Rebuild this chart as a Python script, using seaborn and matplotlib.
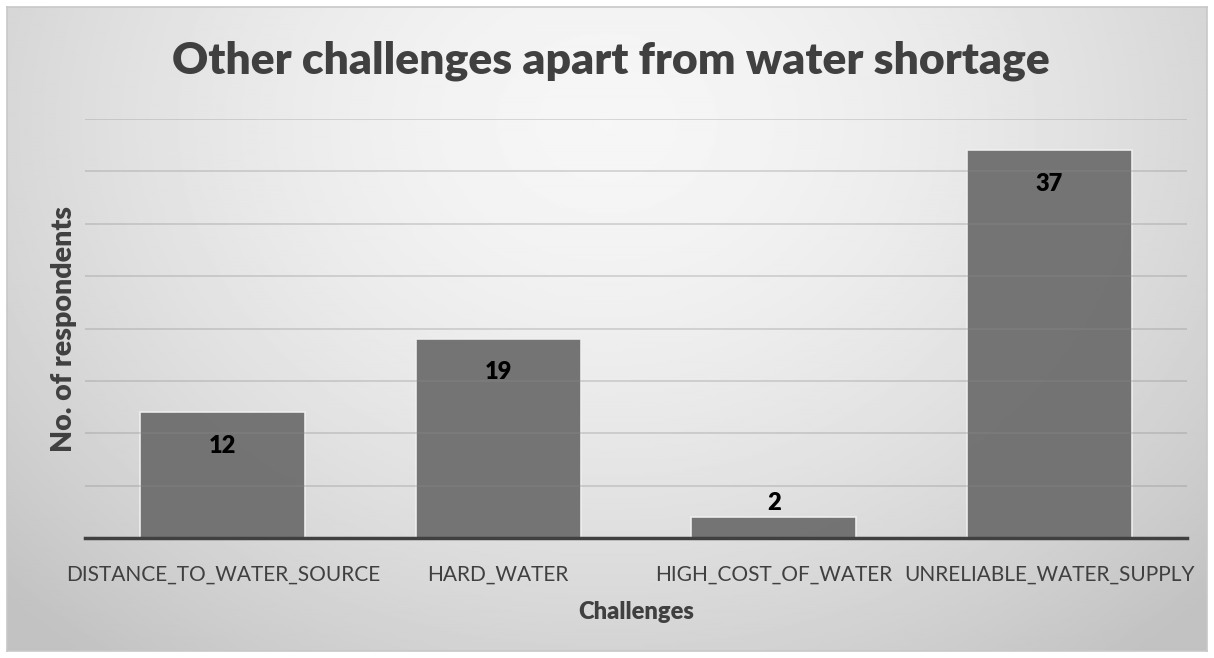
import numpy as np
import pandas as pd
import matplotlib.pyplot as plt
import seaborn as sns

# Data
challenges = ["DISTANCE_TO_WATER_SOURCE", "HARD_WATER", "HIGH_COST_OF_WATER", "UNRELIABLE_WATER_SUPPLY"]
respondents = [12, 19, 2, 37]

df = pd.DataFrame({"challenge": challenges, "count": respondents})

sns.set_theme(style="white")
plt.rcParams['font.family'] = ['Lato', 'DejaVu Sans']

fig = plt.figure(figsize=(12.14, 6.58), dpi=100)
fig.patch.set_facecolor("white")

# radial gradient background
bg = fig.add_axes([0.006, 0.011, 0.988, 0.978], zorder=0)
yy, xx = np.mgrid[0:1:300j, 0:1:600j]
r = np.sqrt(((xx - 0.5) / 0.62) ** 2 + ((yy - 0.18) / 0.95) ** 2)
shade = np.clip(0.965 - 0.17 * r ** 1.6, 0.76, 0.97)
bg.imshow(shade, cmap="gray", vmin=0, vmax=1, aspect="auto", extent=[0, 1, 1, 0])
bg.set_xticks([])
bg.set_yticks([])
for s in bg.spines.values():
    s.set_color("#c8c8c8")
    s.set_linewidth(1.2)

ax = fig.add_axes([85 / 1214, 1 - 538 / 658, 1102 / 1214, 419 / 658], zorder=1)
ax.patch.set_alpha(0)
sns.barplot(data=df, x="challenge", y="count", color="#6e6e6e", width=0.6,
            edgecolor="#f0f0f0", linewidth=1.2, saturation=1, alpha=0.95, ax=ax, zorder=2)

ax.set_ylim(0, 40)
ax.set_xlim(-0.5, 3.5)
ax.set_yticks(range(0, 41, 5))
ax.yaxis.grid(True, color="#8a8a8a", linewidth=1.2, alpha=0.35, zorder=3)
ax.set_axisbelow(False)
ax.tick_params(axis="y", left=False, labelleft=False)
ax.tick_params(axis="x", bottom=False, labelsize=15, labelcolor="#404040", pad=13)
for side in ["top", "right", "left"]:
    ax.spines[side].set_visible(False)
ax.spines["bottom"].set_color("#404040")
ax.spines["bottom"].set_linewidth(2.5)
ax.spines["bottom"].set_zorder(4)

for i, v in enumerate(respondents):
    if v < 5:
        ax.annotate(str(v), (i, v), xytext=(0, 10), textcoords="offset points",
                    ha="center", va="center", fontsize=17, fontweight="heavy", color="black")
    else:
        ax.annotate(str(v), (i, v), xytext=(0, -24), textcoords="offset points",
                    ha="center", va="center", fontsize=17, fontweight="heavy", color="black")

ax.set_xlabel("Challenges", fontsize=17, fontweight="heavy", color="#404040", labelpad=12)
ax.set_ylabel("No. of respondents", fontsize=20.5, fontweight="heavy", color="#404040", labelpad=6)
fig.text(0.503, 0.908, "Other challenges apart from water shortage", ha="center", va="center",
         fontsize=32, fontweight="heavy", color="#404040")

plt.savefig("out.png", dpi=100)
plt.close()
